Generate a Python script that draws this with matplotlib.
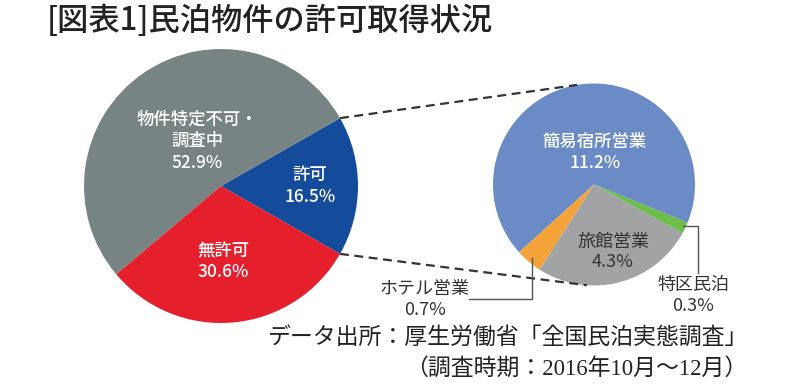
import numpy as np
import matplotlib
matplotlib.use('Agg')
import matplotlib.pyplot as plt

plt.rcParams['font.family'] = ['Noto Sans CJK JP', 'DejaVu Sans']

# main pie: permit status (%)
main_labels = ['許可', '物件特定不可・\n調査中', '無許可']
main_values = [16.5, 52.9, 30.6]
main_colors = ['#154b9b', '#788383', '#e61f2c']

# breakdown of 許可 (%)
sub_labels = ['簡易宿所営業', 'ホテル営業', '旅館営業', '特区民泊']
sub_values = [11.2, 0.7, 4.3, 0.3]
sub_colors = ['#6a8bc6', '#f4a338', '#a2a3a5', '#6cbd49']

W, H = 800, 386


def py(y):
    # pixel row (top-down) -> data y
    return H - y


fig = plt.figure(figsize=(W / 100, H / 100), dpi=100)
ax = fig.add_axes([0, 0, 1, 1])

c1, r1 = (221, py(186)), 137
c2, r2 = (594, py(184.5)), 101

w1, _ = ax.pie(main_values, colors=main_colors, startangle=-29.7,
               counterclock=True, center=c1, radius=r1,
               wedgeprops=dict(linewidth=0), frame=True)
w2, _ = ax.pie(sub_values, colors=sub_colors, startangle=-22.2,
               counterclock=True, center=c2, radius=r2,
               wedgeprops=dict(linewidth=0), frame=True)
ax.set_xlim(0, W)
ax.set_ylim(0, H)
ax.set_aspect('equal')
ax.axis('off')


def on_circle(c, r, deg):
    a = np.deg2rad(deg)
    return c[0] + r * np.cos(a), c[1] + r * np.sin(a)


# dashed lines from the 許可 wedge to the breakdown pie
p_top = on_circle(c1, r1, w1[0].theta2)
p_bot = on_circle(c1, r1, w1[0].theta1)
q_top = on_circle(c2, r2, 99.6)
q_bot = on_circle(c2, r2, 266)
for p, q in [(p_top, q_top), (p_bot, q_bot)]:
    ax.plot([p[0], q[0]], [p[1], q[1]], color='#333333', lw=1.6,
            ls=(0, (4, 2.5)), zorder=1)

white = dict(color='white', fontsize=12.5, fontweight='medium',
             ha='center', va='center', linespacing=1.2)
dark = dict(color='#333333', fontsize=13, ha='center', va='center')

ax.text(197, py(130), main_labels[1], **white)
ax.text(197, py(163), f'{main_values[1]}%', **white)
ax.text(310, py(175), main_labels[0], **white)
ax.text(310, py(197), f'{main_values[0]}%', **white)
ax.text(223, py(251), main_labels[2], **white)
ax.text(223, py(272), f'{main_values[2]}%', **white)

ax.text(595, py(142), sub_labels[0], **white)
ax.text(595, py(163), f'{sub_values[0]}%', **white)
ax.text(613, py(242), sub_labels[2], **dark)
ax.text(613, py(262), f'{sub_values[2]}%', **dark)

# callouts for the thin slices
ax.plot([532, 532, 469], [py(258), py(299), py(299)], color='#555555', lw=1)
ax.text(425, py(289), sub_labels[1], **dark)
ax.text(425, py(310), f'{sub_values[1]}%', **dark)
ax.plot([683, 698, 698], [py(226), py(226), py(273)], color='#555555', lw=1)
ax.text(693, py(285), sub_labels[3], **dark)
ax.text(693, py(306), f'{sub_values[3]}%', **dark)

ax.text(47, py(21), '[図表1]民泊物件の許可取得状況', fontsize=22.5,
        fontweight='medium', color='#222222', ha='left', va='center')

src = dict(family=['Liberation Serif', 'Noto Sans CJK JP'], fontsize=16.5,
           color='#222222', ha='right', va='center')
ax.text(747, py(338), 'データ出所：厚生労働省「全国民泊実態調査」', **src)
ax.text(747, py(369), '（調査時期：2016年10月～12月）', **src)

fig.savefig('out.png', dpi=100)
